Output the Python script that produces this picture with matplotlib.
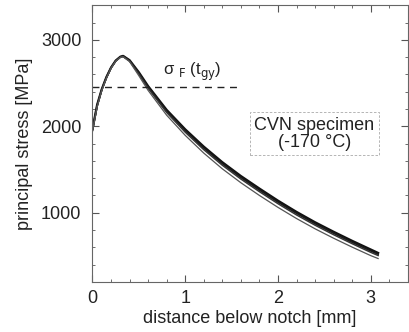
import matplotlib
matplotlib.use("Agg")
import matplotlib.pyplot as plt
from matplotlib.ticker import MultipleLocator

plt.rcParams['font.family'] = ['Liberation Sans', 'DejaVu Sans']

# distance below notch [mm]
x = [0.0, 0.05, 0.1, 0.15, 0.2, 0.25, 0.3, 0.33, 0.4, 0.5, 0.6, 0.8, 1.0,
     1.2, 1.4, 1.6, 1.8, 2.0, 2.2, 2.4, 2.6, 2.8, 3.0, 3.08]
# principal stress [MPa] for several simulations
s1 = [1970, 2250, 2430, 2570, 2680, 2760, 2805, 2815, 2765, 2625, 2465, 2190, 1965,
      1765, 1585, 1425, 1280, 1140, 1010, 890, 780, 675, 575, 535]
s2 = [1960, 2240, 2425, 2565, 2678, 2758, 2803, 2812, 2760, 2615, 2452, 2175, 1948,
      1748, 1568, 1408, 1262, 1123, 993, 873, 763, 658, 558, 520]
s3 = [1950, 2230, 2420, 2560, 2675, 2755, 2800, 2808, 2755, 2605, 2440, 2160, 1932,
      1730, 1550, 1390, 1244, 1105, 975, 856, 746, 642, 542, 505]
s4 = [1945, 2225, 2415, 2555, 2672, 2752, 2797, 2805, 2748, 2585, 2415, 2128, 1895,
      1690, 1508, 1347, 1200, 1062, 933, 814, 705, 602, 504, 470]

sigma_f = 2450
dash_x = [0.0, 1.6]

fig = plt.figure(figsize=(4.10, 3.32), dpi=100)
ax = fig.add_axes([0.2256, 0.151, 0.769, 0.833])

ax.plot(x, s1, color='#111111', lw=1.6)
ax.plot(x, s2, color='#1a1a1a', lw=1.3)
ax.plot(x, s3, color='#333333', lw=1.1)
ax.plot(x, s4, color='#555555', lw=0.9)
ax.plot(dash_x, [sigma_f, sigma_f], color='#222222', lw=1.0, ls=(0, (5, 4)))

ax.text(0.76, 2630, 'σ $_{\\rm F}$ (t$_{\\rm gy}$)', fontsize=12, va='center', ha='left',
        color='#222222')
ax.text(2.39, 1915, 'CVN specimen\n(-170 °C)', fontsize=13, ha='center', va='center',
        linespacing=1.0, color='#222222',
        bbox=dict(boxstyle='square,pad=0.25', fc='white', ec='#aaaaaa', lw=0.6, ls=(0, (3, 2))))

ax.set_xlim(0, 3.4)
ax.set_ylim(200, 3400)
ax.xaxis.set_major_locator(MultipleLocator(1))
ax.xaxis.set_minor_locator(MultipleLocator(0.2))
ax.yaxis.set_major_locator(MultipleLocator(1000))
ax.yaxis.set_minor_locator(MultipleLocator(200))
ax.tick_params(which='both', direction='in', top=True, right=True, colors='#555555',
               labelcolor='#222222', labelsize=13)
ax.tick_params(which='major', length=5, width=0.8)
ax.tick_params(which='minor', length=2.5, width=0.6)
ax.tick_params(axis='y', pad=8)
ax.tick_params(axis='x', pad=6)
for sp in ax.spines.values():
    sp.set_color('#666666')
    sp.set_linewidth(0.8)

ax.set_xlabel('distance below notch [mm]', fontsize=13, color='#222222', labelpad=2)
ax.set_ylabel('principal stress [MPa]', fontsize=13, color='#222222', labelpad=6)

fig.savefig('out.png', dpi=100)
